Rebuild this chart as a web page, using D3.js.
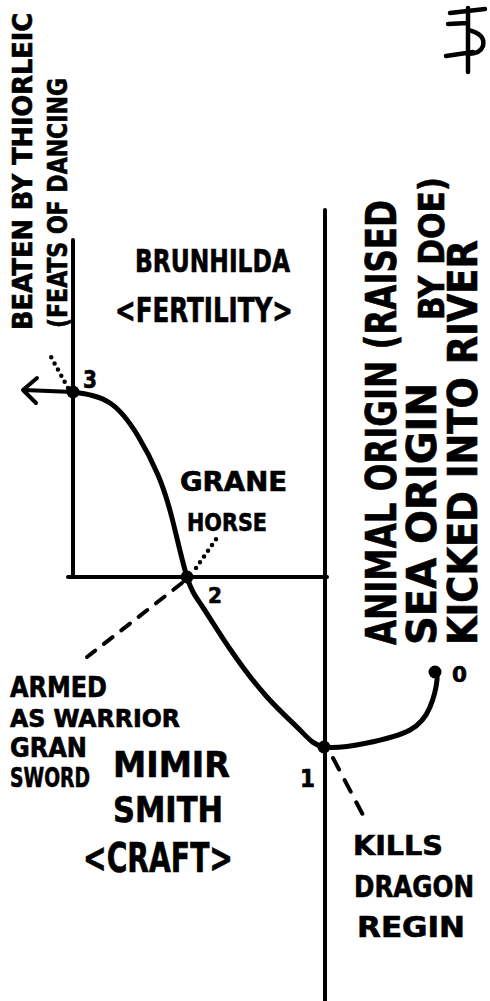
<!DOCTYPE html>
<html>
<head>
<meta charset="utf-8">
<script src="https://cdn.jsdelivr.net/npm/d3@7"></script>
<style>
  html, body { margin: 0; padding: 0; background: #fff; }
  svg { display: block; }
  text { font-family: "DejaVu Sans Condensed", "DejaVu Sans", sans-serif; font-weight: bold; fill: #000; stroke: #000; stroke-width: 0.6; }
</style>
</head>
<body>
<script>
// sketch grid units (1 unit = 10px)
const stageNames = ["0", "1", "2", "3"];
const stageX = [43.5, 32.4, 18.7, 7.3];
const stageY = [67.2, 74.7, 57.7, 39.2];

// the hand drawn trajectory 3 -> 2 -> 1 -> 0
const trackX = [7.3, 11.0, 13.8, 15.8, 17.2, 18.7, 20.2, 23.0, 26.7, 30.0, 32.4, 36.7, 41.0, 43.0, 43.7, 43.5];
const trackY = [39.2, 40.3, 43.6, 47.5, 51.8, 57.7, 60.6, 64.9, 69.7, 73.0, 74.7, 74.3, 73.0, 70.7, 68.0, 67.2];

// axes of the sketch
const axisX1 = [32.5, 7.3, 6.8];
const axisY1 = [21.0, 24.0, 57.7];
const axisX2 = [32.5, 7.3, 32.7];
const axisY2 = [100.1, 57.7, 57.7];

const w = 490;
const h = 1001;

const x = d3.scaleLinear().domain([0, 49]).range([0, w]);
const y = d3.scaleLinear().domain([0, 100.1]).range([0, h]);

const svg = d3.select("body")
    .append("svg")
    .attr("width", w)
    .attr("height", h);

// axes lines
svg.selectAll("line.axis")
    .data(axisX1)
    .enter()
    .append("line")
    .attr("class", "axis")
    .attr("x1", (d, i) => x(axisX1[i]))
    .attr("y1", (d, i) => y(axisY1[i]))
    .attr("x2", (d, i) => x(axisX2[i]))
    .attr("y2", (d, i) => y(axisY2[i]))
    .attr("stroke", "#000")
    .attr("stroke-width", 4)
    .attr("stroke-linecap", "round");

// trajectory
const pts = trackX.map((d, i) => [d, trackY[i]]);
const line = d3.line()
    .x(d => x(d[0]))
    .y(d => y(d[1]))
    .curve(d3.curveNatural);

svg.append("path")
    .attr("d", line(pts))
    .attr("fill", "none")
    .attr("stroke", "#000")
    .attr("stroke-width", 5)
    .attr("stroke-linecap", "round");

// arrow leaving 3 to the left
svg.append("path")
    .attr("d", `M${x(7.3)},${y(39.2)} L${x(2.4)},${y(39.0)} M${x(3.7)},${y(37.8)} L${x(2.3)},${y(39.0)} L${x(3.6)},${y(40.3)}`)
    .attr("fill", "none")
    .attr("stroke", "#000")
    .attr("stroke-width", 4)
    .attr("stroke-linecap", "round")
    .attr("stroke-linejoin", "round");

// stage dots
svg.selectAll("circle.stage")
    .data(stageNames)
    .enter()
    .append("circle")
    .attr("class", "stage")
    .attr("cx", (d, i) => x(stageX[i]))
    .attr("cy", (d, i) => y(stageY[i]))
    .attr("r", 6.5)
    .attr("fill", "#000");

// leader lines: [from x, from y, to x, to y, dash]
const leaders = [
    [18.2, 58.3, 8.7, 65.7, "11,11"],
    [19.6, 56.8, 21.9, 53.5, "0,7"],
    [6.8, 38.8, 5.0, 35.5, "0,7"],
    [33.3, 75.8, 36.3, 81.5, "13,12"]
];
svg.selectAll("line.leader")
    .data(leaders)
    .enter()
    .append("line")
    .attr("x1", d => x(d[0]))
    .attr("y1", d => y(d[1]))
    .attr("x2", d => x(d[2]))
    .attr("y2", d => y(d[3]))
    .attr("stroke", "#000")
    .attr("stroke-width", d => d[4] === "0,7" ? 4.5 : 4)
    .attr("stroke-dasharray", d => d[4])
    .attr("stroke-linecap", "round");

// horizontal labels: [text, x, baseline, size, length]
const labels = [
    ["BRUNHILDA", 13.5, 27.2, 32, 155],
    ["<FERTILITY>", 11.5, 32.2, 34, 178],
    ["GRANE", 18.0, 49.1, 27, 107],
    ["HORSE", 18.7, 53.1, 25, 80],
    ["3", 8.3, 38.8, 25, 14],
    ["2", 20.8, 60.3, 22, 14],
    ["1", 30.0, 78.7, 25, 15],
    ["0", 45.2, 68.2, 22, 15],
    ["ARMED", 1.0, 69.7, 28, 97],
    ["AS WARRIOR", 1.0, 72.7, 24, 170],
    ["GRAN", 1.0, 75.7, 26, 77],
    ["SWORD", 1.0, 78.7, 26, 80],
    ["MIMIR", 11.3, 77.7, 36, 117],
    ["SMITH", 11.3, 82.2, 35, 110],
    ["<CRAFT>", 8.3, 87.2, 40, 150],
    ["KILLS", 35.3, 85.5, 27, 90],
    ["DRAGON", 35.4, 89.7, 30, 120],
    ["REGIN", 35.7, 93.7, 28, 108]
];
svg.selectAll("text.lab")
    .data(labels)
    .enter()
    .append("text")
    .attr("class", "lab")
    .attr("x", d => x(d[1]))
    .attr("y", d => y(d[2]))
    .attr("font-size", d => d[3])
    .attr("textLength", d => d[4])
    .attr("lengthAdjust", "spacingAndGlyphs")
    .text(d => d[0]);

// vertical labels, read bottom to top: [text, baseline x, start y, size, length]
const vlabels = [
    ["BEATEN BY THIORLEIC", 3.2, 33.0, 26, 317],
    ["(FEATS OF DANCING", 6.7, 32.8, 27, 250],
    ["ANIMAL ORIGIN (RAISED", 39.6, 64.5, 43, 445],
    ["BY DOE)", 44.4, 32.0, 36, 143],
    ["SEA ORIGIN", 43.6, 64.5, 40, 262],
    ["KICKED INTO RIVER", 47.7, 64.5, 40, 405]
];
svg.selectAll("text.vlab")
    .data(vlabels)
    .enter()
    .append("text")
    .attr("class", "vlab")
    .attr("transform", d => `translate(${x(d[1])},${y(d[2])}) rotate(-90)`)
    .attr("font-size", d => d[3])
    .attr("textLength", d => d[4])
    .attr("lengthAdjust", "spacingAndGlyphs")
    .text(d => d[0]);

// monogram in the top right corner
svg.append("path")
    .attr("d", `M${x(45.0)},${y(1.3)} L${x(48.5)},${y(0.9)}
                M${x(44.8)},${y(2.4)} L${x(46.8)},${y(2.3)}
                M${x(46.8)},${y(0.8)} L${x(46.8)},${y(7.2)}
                M${x(46.8)},${y(3.0)} Q${x(48.6)},${y(3.4)} ${x(48.3)},${y(4.6)} Q${x(48.0)},${y(5.4)} ${x(46.8)},${y(5.4)}
                M${x(44.6)},${y(5.6)} L${x(47.3)},${y(5.2)}`)
    .attr("fill", "none")
    .attr("stroke", "#000")
    .attr("stroke-width", 4.5)
    .attr("stroke-linecap", "round")
    .attr("stroke-linejoin", "round");
</script>
</body>
</html>
